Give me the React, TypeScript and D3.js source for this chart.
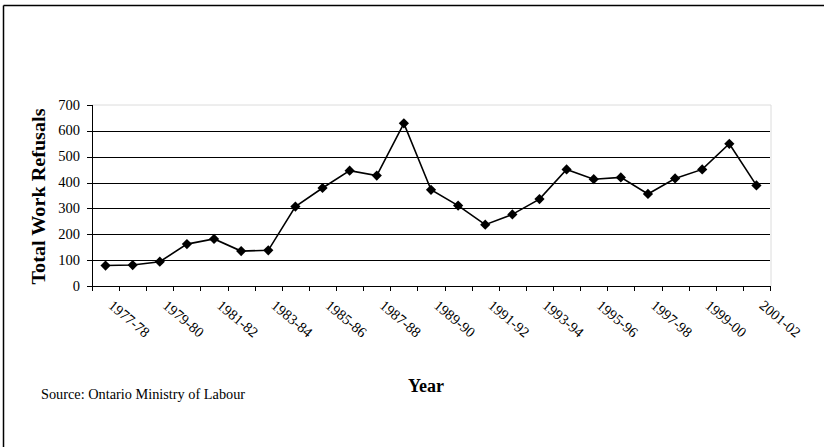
import React from 'react'
import * as d3 from 'd3'

// values
const years: string[] = [
    '1977-78', '1978-79', '1979-80', '1980-81', '1981-82', '1982-83', '1983-84',
    '1984-85', '1985-86', '1986-87', '1987-88', '1988-89', '1989-90', '1990-91',
    '1991-92', '1992-93', '1993-94', '1994-95', '1995-96', '1996-97', '1997-98',
    '1998-99', '1999-00', '2000-01', '2001-02'
]
const refusals: number[] = [
    79, 81, 94, 162, 182, 135, 138, 307, 379, 446, 427, 629, 372,
    311, 237, 277, 336, 451, 413, 420, 356, 416, 451, 550, 389
]
const yTicks: number[] = [0, 100, 200, 300, 400, 500, 600, 700]

const W = 824
const H = 447
const plot = { left: 92, right: 770, top: 105, bottom: 286 }
const serif = '"Liberation Serif", "Times New Roman", serif'

const App = () => {
    const x = d3.scaleBand<string>()
        .domain(years)
        .range([plot.left, plot.right])
    const y = d3.scaleLinear()
        .domain([0, 700])
        .range([plot.bottom, plot.top])

    const cx = (d: string) => (x(d) as number) + x.bandwidth() / 2

    const line = d3.line<number>()
        .x((_, i) => cx(years[i]))
        .y(d => y(d))

    const diamond = d3.symbol().type(d3.symbolSquare).size(52)()

    // boundaries between categories get a tick
    const xTickPos = years.map(d => x(d) as number).concat([plot.right])

    return (
        <svg width={W} height={H} style={{ position: 'absolute', left: 0, top: 0, background: '#fff' }}
             fontFamily={serif}>
            {/* outer frame: only top and left are visible */}
            <line x1={3.5} y1={5.5} x2={W} y2={5.5} stroke="#000" strokeWidth={1.5}/>
            <line x1={3.5} y1={5.5} x2={3.5} y2={H} stroke="#000" strokeWidth={1.5}/>

            {/* plot area edges */}
            <line x1={plot.left} y1={y(700)} x2={plot.right + 1} y2={y(700)} stroke="#dcdcdc"/>
            <line x1={plot.right + 1} y1={y(700)} x2={plot.right + 1} y2={y(0)} stroke="#dcdcdc"/>

            {yTicks.filter(t => t > 0 && t < 700).map(t =>
                <line key={`g-${t}`} x1={plot.left} x2={plot.right} y1={Math.round(y(t)) + 0.5}
                      y2={Math.round(y(t)) + 0.5} stroke="#000"/>
            )}

            {/* y axis */}
            <line x1={plot.left + 0.5} x2={plot.left + 0.5} y1={y(700)} y2={y(0)} stroke="#000"/>
            {yTicks.map(t =>
                <g key={`yt-${t}`}>
                    <line x1={plot.left - 5} x2={plot.left} y1={Math.round(y(t)) + 0.5}
                          y2={Math.round(y(t)) + 0.5} stroke="#000"/>
                    <text x={80} y={y(t) + 4.5} textAnchor="end" fontSize={14.5}>{t}</text>
                </g>
            )}

            {/* x axis */}
            <line x1={plot.left} x2={plot.right + 1} y1={y(0) + 0.5} y2={y(0) + 0.5} stroke="#000"/>
            {xTickPos.map((p, i) =>
                <line key={`xt-${i}`} x1={Math.round(p) + 0.5} x2={Math.round(p) + 0.5}
                      y1={y(0)} y2={y(0) + 5} stroke="#000"/>
            )}
            {years.filter((_, i) => i % 2 === 0).map(d =>
                <text key={`xl-${d}`} fontSize={14.5}
                      transform={`translate(${cx(d) + 2}, ${y(0) + 21}) rotate(40)`}>{d}</text>
            )}

            {/* series */}
            <path d={line(refusals) as string} fill="none" stroke="#000" strokeWidth={1.6}/>
            {refusals.map((v, i) =>
                <path key={`m-${i}`} d={diamond as string} fill="#000"
                      transform={`translate(${cx(years[i])}, ${y(v)}) rotate(45)`}/>
            )}

            {/* titles */}
            <text transform={`translate(45, ${(plot.top + plot.bottom) / 2 + 1}) rotate(-90)`}
                  textAnchor="middle" fontSize={19} fontWeight="bold"
                  textLength={176} lengthAdjust="spacingAndGlyphs">Total Work Refusals</text>
            <text x={426} y={392} textAnchor="middle" fontSize={18} fontWeight="bold">Year</text>
            <text x={41} y={399} fontSize={14.3}>Source: Ontario Ministry of Labour</text>
        </svg>
    )
}

export default App
